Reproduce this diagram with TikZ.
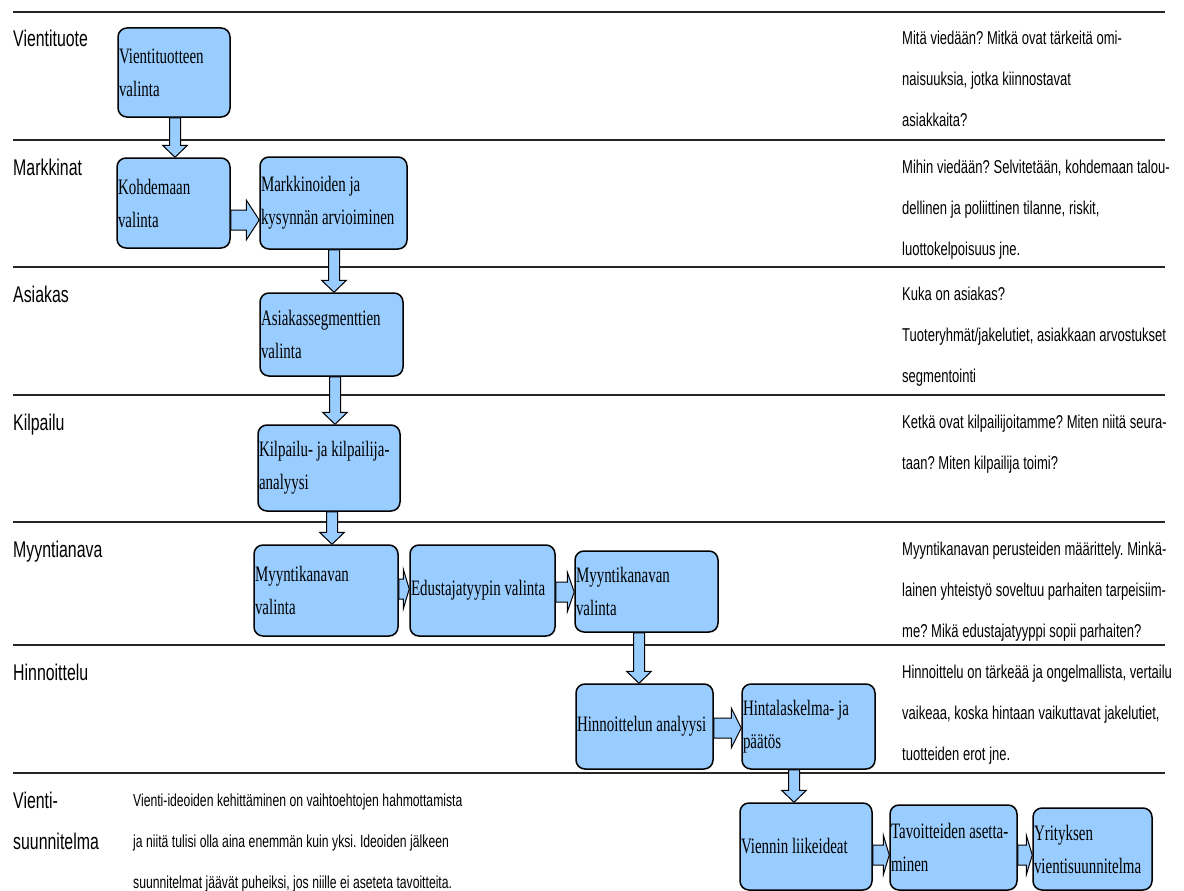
\documentclass[tikz,border=0pt]{standalone}
\usepackage{fontspec}
\usetikzlibrary{calc}
\newfontfamily\boxfont{Liberation Serif}[FakeStretch=0.68]
\newfontfamily\condsans{Liberation Sans}[FakeStretch=0.7]
\definecolor{boxblue}{HTML}{99CCFF}
\frenchspacing
\tikzset{
  proc/.style={draw=black, line width=1.5pt, fill=boxblue, rounded corners=9pt,
    align=left, inner xsep=1pt, inner ysep=0pt, font=\boxfont\fontsize{22}{33}\selectfont,
    execute at begin node={\spaceskip=0.17em\relax\xspaceskip=0.17em\relax}},
  barrow/.style={draw=black, line width=1pt, fill=boxblue, line join=miter},
  rowline/.style={line width=2pt, draw=black!85},
  lab/.style={font=\condsans\fontsize{22.7}{41}\selectfont, anchor=base west, inner sep=0pt, align=left, text width=120pt},
  note/.style={font=\condsans\fontsize{18.6}{41}\selectfont, anchor=base west, inner sep=0pt, align=left, text width=320pt,
    execute at begin node={\spaceskip=0.2em\relax\xspaceskip=0.2em\relax}},
}
% vertical block arrow: from node #1 (south) to node #2 (north) at x = #3
\newcommand\varr[3]{%
  \draw[barrow] let \p1=(#1.south), \p2=(#2.north) in
    ({(#3-5.5)*1pt},\y1) -- ({(#3-5.5)*1pt},\y2+12pt) -- ({(#3-12.5)*1pt},\y2+12pt)
    -- ({#3*1pt},\y2) -- ({(#3+12.5)*1pt},\y2+12pt) -- ({(#3+5.5)*1pt},\y2+12pt)
    -- ({(#3+5.5)*1pt},\y1) -- cycle;}
% horizontal block arrow: from node #1 (east) to node #2 (west) at y = #3, head length #4
\newcommand\harr[4]{%
  \draw[barrow] let \p1=(#1.east), \p2=(#2.west) in
    (\x1,{-(#3-10)*1pt}) -- (\x2-#4pt,{-(#3-10)*1pt}) -- (\x2-#4pt,{-(#3-20)*1pt})
    -- (\x2,{-#3*1pt}) -- (\x2-#4pt,{-(#3+20)*1pt}) -- (\x2-#4pt,{-(#3+10)*1pt})
    -- (\x1,{-(#3+10)*1pt}) -- cycle;}
\begin{document}
\begin{tikzpicture}[x=1pt,y=-1pt]
\useasboundingbox (0,0) rectangle (1184,891);
\fill[white] (0,0) rectangle (1184,891);
% row separators
\foreach \yy in {12,140,267,395,522,645,773}
  \draw[rowline] (13,\yy) -- (1165,\yy);
% row labels
\node[lab] (l1) at (13,47) {Vientituote};
\node[lab] (l2) at (13,175) {Markkinat};
\node[lab] (l3) at (13,302) {Asiakas};
\node[lab] (l4) at (13,430) {Kilpailu};
\node[lab] (l5) at (13,557) {Myyntianava};
\node[lab] (l6) at (13,680) {Hinnoittelu};
\node[lab] (l7) at (13,808) {Vienti-\\suunnitelma};
% notes
\node[note] (n1) at (902,45) {Mitä viedään? Mitkä ovat tärkeitä omi-\\naisuuksia, jotka kiinnostavat\\asiakkaita?};
\node[note] (n2) at (902,173) {Mihin viedään? Selvitetään, kohdemaan talou-\\dellinen ja poliittinen tilanne, riskit,\\luottokelpoisuus jne.};
\node[note] (n3) at (902,300) {Kuka on asiakas?\\Tuoteryhmät/jakelutiet, asiakkaan arvostukset\\segmentointi};
\node[note] (n4) at (902,428) {Ketkä ovat kilpailijoitamme? Miten niitä seura-\\taan? Miten kilpailija toimi?};
\node[note] (n5) at (902,555) {Myyntikanavan perusteiden määrittely. Minkä-\\lainen yhteistyö soveltuu parhaiten tarpeisiim-\\me? Mikä edustajatyyppi sopii parhaiten?};
\node[note] (n6) at (902,678) {Hinnoittelu on tärkeää ja ongelmallista, vertailu\\vaikeaa, koska hintaan vaikuttavat jakelutiet,\\tuotteiden erot jne.};
\node[note, text width=450pt, font=\condsans\fontsize{17.4}{41}\selectfont] (n7) at (133,806) {Vienti-ideoiden kehittäminen on vaihtoehtojen hahmottamista\\ja niitä tulisi olla aina enemmän kuin yksi. Ideoiden jälkeen\\suunnitelmat jäävät puheiksi, jos niille ei aseteta tavoitteita.};
% process boxes
\node[proc, minimum width=112pt, minimum height=89pt, text width=110pt] (v1) at (174,72.5) {Vientituotteen\\valinta};
\node[proc, minimum width=113pt, minimum height=90pt, text width=111pt] (m1) at (173.5,203) {Kohdemaan\\valinta};
\node[proc, minimum width=147pt, minimum height=92pt, text width=145pt] (m2) at (333.5,203) {Markkinoiden ja\\kysynnän arvioiminen};
\node[proc, minimum width=143pt, minimum height=83pt, text width=141pt] (a1) at (331.5,334.5) {Asiakassegmenttien\\valinta};
\node[proc, minimum width=142pt, minimum height=86pt, text width=140pt] (k1) at (329,468) {Kilpailu- ja kilpailija-\\analyysi};
\node[proc, minimum width=144pt, minimum height=91pt, text width=142pt] (y1) at (326,590.5) {Myyntikanavan\\valinta};
\node[proc, minimum width=145pt, minimum height=91pt, text width=143pt] (y2) at (482.5,590.5) {Edustajatyypin valinta};
\node[proc, minimum width=143pt, minimum height=81pt, text width=141pt] (y3) at (646.5,591.5) {Myyntikanavan\\valinta};
\node[proc, minimum width=137pt, minimum height=85pt, text width=135pt] (h1) at (644.5,726.5) {Hinnoittelun analyysi};
\node[proc, minimum width=133pt, minimum height=85pt, text width=131pt] (h2) at (808.5,726.5) {Hintalaskelma- ja\\päätös};
\node[proc, minimum width=132pt, minimum height=87pt, text width=130pt] (s1) at (806,846.5) {Viennin liikeideat};
\node[proc, minimum width=127pt, minimum height=85pt, text width=125pt] (s2) at (953.5,847.5) {Tavoitteiden asetta-\\minen};
\node[proc, minimum width=119pt, minimum height=82pt, text width=117pt] (s3) at (1092.5,849) {Yrityksen\\vientisuunnitelma};
% block arrows
\varr{v1}{m1}{175}
\varr{m2}{a1}{334}
\varr{a1}{k1}{335}
\varr{k1}{y1}{332}
\varr{y3}{h1}{639}
\varr{h2}{s1}{794}
\harr{m1}{m2}{220}{13}
\harr{y1}{y2}{589}{6}
\harr{y2}{y3}{592}{7}
\harr{h1}{h2}{728}{10}
\harr{s1}{s2}{855}{6}
\harr{s2}{s3}{855}{6}
\end{tikzpicture}
\end{document}
